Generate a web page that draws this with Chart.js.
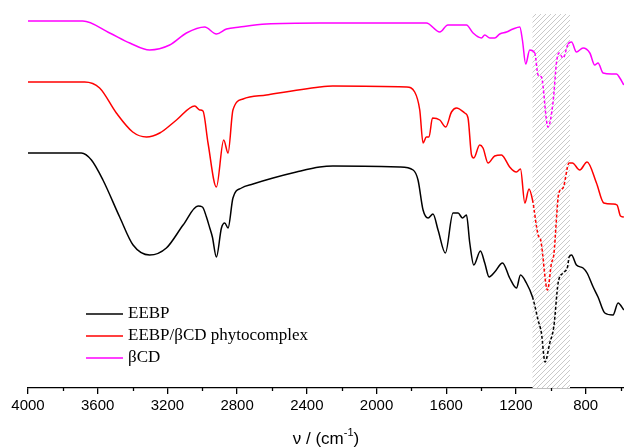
<!DOCTYPE html>
<html>
<head>
<meta charset="utf-8">
<script src="https://cdn.jsdelivr.net/npm/chart.js@4"></script>
<style>
  html, body { margin: 0; padding: 0; background: #fff; }
  #wrap { width: 624px; height: 448px; }
</style>
</head>
<body>
<div id="wrap"><canvas id="ftir" width="624" height="448"></canvas></div>
<script>
// wavenumbers (cm-1) and intensities (a.u., offset traces)
var wnEEBP = [4000, 3694, 3636, 3570, 3474, 3397, 3302, 3206, 3110, 3024, 2999, 2976, 2957, 2942, 2919, 2890, 2871, 2852, 2824, 2775, 2709, 2594, 2460, 2326, 2250, 1867, 1790, 1762, 1733, 1704, 1676, 1647, 1605, 1561, 1532, 1507, 1484, 1465, 1442, 1404, 1379, 1354, 1322, 1277, 1236, 1197, 1174, 1140, 1105, 1073, 1054, 1033, 1006, 983, 958, 930, 904, 895, 881, 853, 815, 792, 757, 729, 690, 643, 614, 581];
var yEEBP = [235, 235, 228, 208, 171, 143, 133, 140, 163, 182, 181, 171, 160, 151, 131, 160, 165, 160, 190, 200, 204, 210, 216, 221, 222, 221, 218, 208, 178, 170, 174, 158, 135, 175, 175, 170, 173, 145, 123, 137, 125, 111, 116, 125, 110, 100, 113, 105, 91, 68, 55, 26, 45, 61, 105, 115, 121, 131, 133, 123, 120, 115, 101, 91, 75, 73, 85, 78];

var wnComplex = [4000, 3675, 3589, 3493, 3399, 3320, 3244, 3148, 3043, 3015, 2996, 2967, 2919, 2877, 2852, 2824, 2766, 2632, 2326, 2251, 1828, 1781, 1752, 1733, 1714, 1699, 1679, 1637, 1603, 1570, 1541, 1494, 1475, 1455, 1442, 1408, 1389, 1360, 1322, 1283, 1270, 1236, 1197, 1174, 1149, 1125, 1105, 1073, 1058, 1019, 996, 983, 954, 930, 895, 876, 834, 792, 738, 696, 643, 620, 600, 581];
var yComplex = [306, 306, 300, 275, 256, 251, 255, 268, 282, 278, 277, 245, 201, 248, 235, 278, 289, 293, 301, 302, 301, 296, 278, 245, 251, 251, 270, 268, 261, 276, 280, 275, 270, 233, 230, 243, 240, 225, 232, 233, 231, 221, 216, 219, 185, 199, 188, 153, 148, 98, 125, 133, 195, 200, 225, 225, 218, 226, 205, 185, 184, 183, 172, 171];

var wnBCD = [4000, 3686, 3531, 3416, 3302, 3187, 3091, 2986, 2919, 2861, 2785, 2632, 2326, 1963, 1714, 1637, 1591, 1484, 1446, 1398, 1379, 1350, 1322, 1293, 1254, 1217, 1178, 1163, 1144, 1121, 1092, 1073, 1054, 1016, 987, 967, 953, 930, 901, 881, 853, 815, 776, 748, 729, 700, 652, 623, 604, 581];
var yBCD = [367, 367, 355, 345, 338, 343, 355, 361, 354, 359, 361, 364, 365, 365, 365, 356, 363, 363, 355, 350, 353, 350, 350, 354, 356, 359, 361, 348, 324, 338, 335, 313, 311, 261, 286, 326, 335, 330, 344, 346, 336, 340, 335, 323, 325, 315, 314, 314, 310, 303];

var seriesNames = ['EEBP', 'EEBP/\u03B2CD phytocomplex', '\u03B2CD'];
var seriesColors = ['#000000', '#ff0000', '#ff00ff'];
var xTicks = [4000, 3600, 3200, 2800, 2400, 2000, 1600, 1200, 800];
var bandRange = [1105, 890];   // hatched C-O region
var bandTop = 374;

function pts(wn, y) {
	return wn.map(function (w, i) { return { x: w, y: y[i] }; });
}

function inBand(ctx) {
	var a = ctx.p0.parsed.x, b = ctx.p1.parsed.x;
	return a <= bandRange[0] + 1 && b >= bandRange[1] - 1 ? [3, 2] : undefined;
}

function hatchPattern(c) {
	var s = 5;
	var p = document.createElement('canvas');
	p.width = s; p.height = s;
	var g = p.getContext('2d');
	g.fillStyle = '#ffffff';
	g.fillRect(0, 0, s, s);
	g.strokeStyle = '#c9c9c9';
	g.lineWidth = 1;
	g.beginPath();
	g.moveTo(-1, s + 1); g.lineTo(s + 1, -1);
	g.moveTo(-1, 1); g.lineTo(1, -1);
	g.moveTo(s - 1, s + 1); g.lineTo(s + 1, s - 1);
	g.stroke();
	return c.createPattern(p, 'repeat');
}

var ftirPlugin = {
	id: 'ftirExtras',
	beforeDatasetsDraw: function (chart) {
		var c = chart.ctx, xs = chart.scales.x, ys = chart.scales.y;
		var x0 = xs.getPixelForValue(bandRange[0]);
		var x1 = xs.getPixelForValue(bandRange[1]);
		var y0 = ys.getPixelForValue(bandTop);
		var y1 = ys.getPixelForValue(0);
		c.save();
		c.fillStyle = hatchPattern(c);
		c.fillRect(x0, y0, x1 - x0, y1 - y0);
		c.restore();
	},
	afterDraw: function (chart) {
		var c = chart.ctx, xs = chart.scales.x, area = chart.chartArea;
		c.save();
		// minor ticks
		c.strokeStyle = '#000';
		c.lineWidth = 1.3;
		for (var v = 3800; v >= 600; v -= 400) {
			var px = Math.round(xs.getPixelForValue(v)) + 0.5;
			c.beginPath();
			c.moveTo(px, area.bottom);
			c.lineTo(px, area.bottom + 3);
			c.stroke();
		}
		// axis title with superscript
		c.fillStyle = '#000';
		c.textBaseline = 'alphabetic';
		var base = '\u03BD / (cm', sup = '-1', close = ')';
		c.font = '17px "Liberation Sans", Arial, sans-serif';
		var w1 = c.measureText(base).width, w3 = c.measureText(close).width;
		c.font = '11px "Liberation Sans", Arial, sans-serif';
		var w2 = c.measureText(sup).width;
		var cx = (area.left + area.right) / 2;
		var sx = cx - (w1 + w2 + w3) / 2, ty = 444;
		c.font = '17px "Liberation Sans", Arial, sans-serif';
		c.fillText(base, sx, ty);
		c.font = '11px "Liberation Sans", Arial, sans-serif';
		c.fillText(sup, sx + w1, ty - 8);
		c.font = '17px "Liberation Sans", Arial, sans-serif';
		c.fillText(close, sx + w1 + w2, ty);
		// legend
		c.font = '17px "Liberation Serif", "Times New Roman", serif';
		c.textBaseline = 'middle';
		chart.data.datasets.forEach(function (ds, i) {
			var ly = 314 + i * 22;
			c.strokeStyle = ds.borderColor;
			c.lineWidth = 1.5;
			c.beginPath();
			c.moveTo(86, ly);
			c.lineTo(123, ly);
			c.stroke();
			c.fillStyle = '#000';
			c.fillText(ds.label, 128, ly);
		});
		c.restore();
	}
};

var datasets = [
	{ label: seriesNames[0], data: pts(wnEEBP, yEEBP), borderColor: seriesColors[0] },
	{ label: seriesNames[1], data: pts(wnComplex, yComplex), borderColor: seriesColors[1] },
	{ label: seriesNames[2], data: pts(wnBCD, yBCD), borderColor: seriesColors[2] }
].map(function (d) {
	d.borderWidth = 1.5;
	d.pointRadius = 0;
	d.fill = false;
	d.cubicInterpolationMode = 'monotone';
	d.segment = { borderDash: inBand };
	return d;
});

new Chart(document.getElementById('ftir'), {
	type: 'line',
	data: { datasets: datasets },
	plugins: [ftirPlugin],
	options: {
		responsive: false,
		animation: false,
		devicePixelRatio: 1,
		layout: { padding: { left: 28, right: 0, top: 0, bottom: 0 } },
		plugins: { legend: { display: false }, tooltip: { enabled: false } },
		scales: {
			x: {
				type: 'linear',
				reverse: true,
				min: 580,
				max: 4000,
				afterBuildTicks: function (axis) {
					axis.ticks = xTicks.map(function (v) { return { value: v }; });
				},
				afterFit: function (axis) { axis.height = 60; },
				border: { display: true, color: '#000', width: 1.3 },
				grid: { display: true, drawOnChartArea: false, drawTicks: true, tickLength: 6, color: '#000', lineWidth: 1.3 },
				ticks: {
					maxRotation: 0,
					autoSkip: false,
					padding: 3,
					color: '#000',
					font: { family: '"Liberation Sans", Arial, sans-serif', size: 15 },
					callback: function (v) { return String(v); }
				}
			},
			y: {
				type: 'linear',
				display: false,
				min: 0,
				max: 388
			}
		}
	}
});
</script>
</body>
</html>
